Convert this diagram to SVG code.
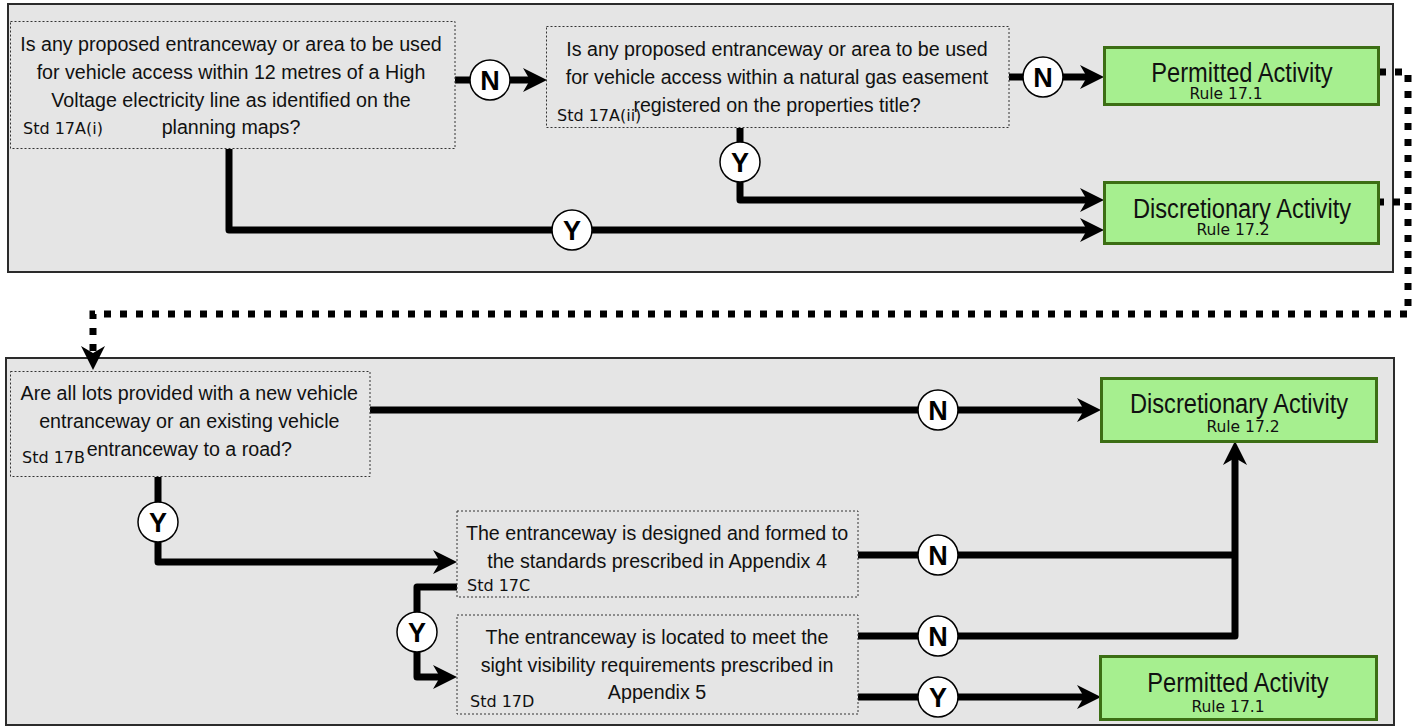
<svg xmlns="http://www.w3.org/2000/svg" width="1415" height="726" viewBox="0 0 1415 726">
<defs>
<style>
.panel{fill:#e5e5e5;stroke:#2b2b2b;stroke-width:2}
.qbox{fill:none;stroke:#333;stroke-width:1;stroke-dasharray:2 2}
.act{fill:#a6ef8f;stroke:#3c6e14;stroke-width:3}
.q{font-family:"Liberation Sans",Arial,sans-serif;font-size:21px;fill:#111;text-anchor:middle}
.std{font-family:"DejaVu Sans",Verdana,sans-serif;font-size:16px;fill:#111}
.at{font-family:"Liberation Sans",Arial,sans-serif;font-size:28px;fill:#111;text-anchor:middle}
.rule{font-family:"DejaVu Sans",Verdana,sans-serif;font-size:15.5px;fill:#111;text-anchor:middle}
.conn{fill:none;stroke:#000;stroke-width:7;stroke-linejoin:round;marker-end:url(#arrow)}
.plain{fill:none;stroke:#000;stroke-width:7;stroke-linejoin:round}
.dots{fill:none;stroke:#000;stroke-width:7;stroke-dasharray:7 9}
.badge circle{fill:#fff;stroke:#000;stroke-width:1.5}
.badge text{font-family:"Liberation Sans",Arial,sans-serif;font-weight:bold;font-size:27px;fill:#000;text-anchor:middle}
</style>
<marker id="arrow" viewBox="0 0 24 24" markerWidth="24" markerHeight="24" refX="9" refY="12" orient="auto" markerUnits="userSpaceOnUse">
<path d="M0,0 L24,12 L0,24 L7,12 Z" fill="#000"/>
</marker>
</defs>
<rect width="1415" height="726" fill="#fff"/>
<g id="panels">
<rect class="panel" x="8" y="4" width="1385" height="268"/>
<rect class="panel" x="6" y="358" width="1388" height="367"/>
</g>
<g id="connectors">
<path class="conn" d="M455,80 H532"/>
<path class="conn" d="M1009,77 H1089"/>
<path class="conn" d="M740,128 V200 H1089"/>
<path class="conn" d="M229,149 V230 H1089"/>
<path class="dots" d="M1379,72 H1408 V314 H93 V355" marker-end="url(#arrow)"/>
<path class="dots" d="M1377,202 H1408"/>
<path class="conn" d="M370,410 H1086"/>
<path class="conn" d="M158,477 V562 H442"/>
<path class="plain" d="M858,555 H1235"/>
<path class="conn" d="M858,636 H1235 V456"/>
<path class="conn" d="M858,697 H1086"/>
<path class="conn" d="M457,587 H417 V677 H442"/>
<g class="badge"><circle cx="490" cy="80" r="20"/><text x="490" y="90">N</text></g>
<g class="badge"><circle cx="1043" cy="77" r="20"/><text x="1043" y="87">N</text></g>
<g class="badge"><circle cx="740" cy="162" r="20"/><text x="740" y="172">Y</text></g>
<g class="badge"><circle cx="572" cy="230" r="20"/><text x="572" y="240">Y</text></g>
<g class="badge"><circle cx="938" cy="410" r="20"/><text x="938" y="420">N</text></g>
<g class="badge"><circle cx="158" cy="522" r="20"/><text x="158" y="532">Y</text></g>
<g class="badge"><circle cx="938" cy="555" r="20"/><text x="938" y="565">N</text></g>
<g class="badge"><circle cx="417" cy="632" r="20"/><text x="417" y="642">Y</text></g>
<g class="badge"><circle cx="938" cy="636" r="20"/><text x="938" y="646">N</text></g>
<g class="badge"><circle cx="938" cy="697" r="20"/><text x="938" y="707">Y</text></g>
</g>
<g id="std17Ai">
<rect class="qbox" x="10.5" y="21.5" width="444.5" height="127"/>
<g transform="translate(231 0) scale(0.936 1)">
<text class="q" x="0" y="51">Is any proposed entranceway or area to be used</text>
<text class="q" x="0" y="79">for vehicle access within 12 metres of a High</text>
<text class="q" x="0" y="107">Voltage electricity line as identified on the</text>
<text class="q" x="0" y="134">planning maps?</text>
</g>
<text class="std" x="23" y="134">Std 17A(i)</text>
</g>
<g id="std17Aii">
<rect class="qbox" x="546.5" y="26.5" width="462.5" height="101"/>
<g transform="translate(777 0) scale(0.936 1)">
<text class="q" x="0" y="56">Is any proposed entranceway or area to be used</text>
<text class="q" x="0" y="84">for vehicle access within a natural gas easement</text>
<text class="q" x="0" y="112">registered on the properties title?</text>
</g>
<text class="std" x="557" y="121">Std 17A(ii)</text>
</g>
<g id="permitted1">
<rect class="act" x="1104.5" y="47.5" width="274" height="57"/>
<g transform="translate(1242 0) scale(0.845 1)"><text class="at" x="0" y="82">Permitted Activity</text></g>
<text class="rule" x="1226" y="99">Rule 17.1</text>
</g>
<g id="discretionary1">
<rect class="act" x="1104.5" y="182.5" width="274" height="61"/>
<g transform="translate(1242 0) scale(0.845 1)"><text class="at" x="0" y="218">Discretionary Activity</text></g>
<text class="rule" x="1233" y="235">Rule 17.2</text>
</g>
<g id="std17B">
<rect class="qbox" x="10.5" y="371.5" width="359.5" height="105"/>
<g transform="translate(189.3 0) scale(0.936 1)">
<text class="q" x="0" y="400">Are all lots provided with a new vehicle</text>
<text class="q" x="0" y="428">entranceway or an existing vehicle</text>
<text class="q" x="0" y="456">entranceway to a road?</text>
</g>
<text class="std" x="22" y="463">Std 17B</text>
</g>
<g id="std17C">
<rect class="qbox" x="457" y="511" width="401" height="86"/>
<g transform="translate(657 0) scale(0.936 1)">
<text class="q" x="0" y="540">The entranceway is designed and formed to</text>
<text class="q" x="0" y="568">the standards prescribed in Appendix 4</text>
</g>
<text class="std" x="467" y="591">Std 17C</text>
</g>
<g id="std17D">
<rect class="qbox" x="457" y="615" width="401" height="99"/>
<g transform="translate(657 0) scale(0.936 1)">
<text class="q" x="0" y="644">The entranceway is located to meet the</text>
<text class="q" x="0" y="672">sight visibility requirements prescribed in</text>
<text class="q" x="0" y="699">Appendix 5</text>
</g>
<text class="std" x="470" y="707">Std 17D</text>
</g>
<g id="discretionary2">
<rect class="act" x="1101.5" y="378.5" width="275" height="63"/>
<g transform="translate(1239 0) scale(0.845 1)"><text class="at" x="0" y="413">Discretionary Activity</text></g>
<text class="rule" x="1243" y="432">Rule 17.2</text>
</g>
<g id="permitted2">
<rect class="act" x="1100.5" y="656.5" width="276" height="63"/>
<g transform="translate(1238 0) scale(0.845 1)"><text class="at" x="0" y="692">Permitted Activity</text></g>
<text class="rule" x="1228" y="712">Rule 17.1</text>
</g>
</svg>
